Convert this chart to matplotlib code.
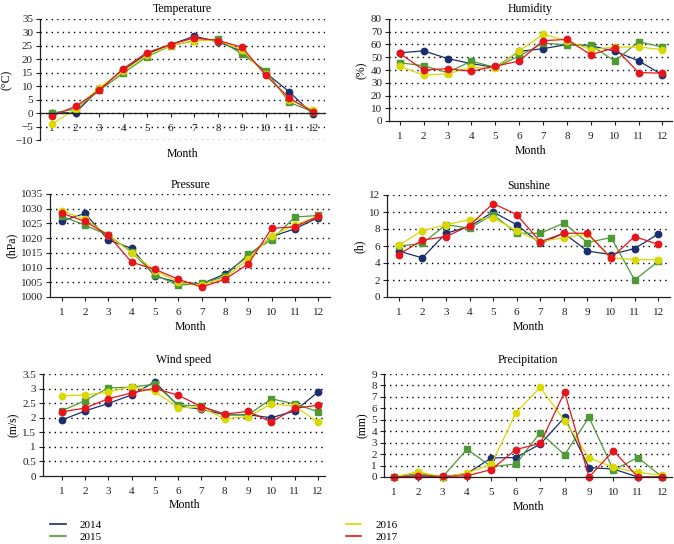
import numpy as np
import matplotlib as mpl
mpl.use('Agg')
import matplotlib.pyplot as plt
from matplotlib.lines import Line2D

plt.rcParams['font.family'] = ['Liberation Serif', 'DejaVu Serif']

months = list(range(1, 13))
years = ['2014', '2015', '2016', '2017']
colors = ['#1b2f6e', '#4f9a35', '#d9d900', '#e8141c']
markers = ['o', 's', 'o', 'o']

temp_2014 = [0, 0.2, 9, 16, 22, 25.5, 28.6, 26.5, 23, 15, 7.9, -0.5]
temp_2015 = [0, 1.5, 8.5, 14.8, 21, 25, 27, 27.5, 22, 15.8, 4, 0.5]
temp_2016 = [-4.1, 1.5, 9.5, 15.5, 21.5, 25, 27, 27, 23.5, 14.5, 5, 1.2]
temp_2017 = [-1.1, 2.5, 8.5, 16.5, 22.5, 25.5, 28, 27, 24.5, 14.2, 5.5, 0.5]

hum_2014 = [53.5, 55, 49, 45, 42, 54.6, 56.7, 60, 59, 54.8, 47.2, 36.2]
hum_2015 = [45.7, 43.3, 38, 47, 42, 51, 61, 59.8, 59.5, 47, 62.2, 58]
hum_2016 = [43, 36, 37, 42, 41.5, 55, 68, 63, 56, 58, 58, 56]
hum_2017 = [53, 40, 41, 39, 43, 47, 63, 64, 52, 57.5, 38, 37.5]

pres_2014 = [1025.8, 1028.4, 1019.4, 1016.5, 1007, 1005, 1004.5, 1007.8, 1014, 1020.5, 1023.2, 1027]
pres_2015 = [1027.5, 1024.4, 1021, 1015.3, 1007.5, 1004, 1004.6, 1007, 1014.6, 1019.5, 1027.2, 1027.7]
pres_2016 = [1029.3, 1026.5, 1021, 1015, 1009, 1005, 1004, 1006.5, 1013, 1020.8, 1024.5, 1027.5]
pres_2017 = [1028.5, 1025.7, 1021, 1011.8, 1009.4, 1006, 1003.4, 1006, 1011.3, 1023.3, 1023.9, 1027.4]

sun_2014 = [5.4, 4.6, 7.5, 8.3, 10, 8.5, 6.3, 7.5, 5.4, 5, 5.7, 7.4]
sun_2015 = [6, 6.3, 8.5, 8.1, 9.7, 7.5, 7.5, 8.7, 6.4, 7, 2, 4.2]
sun_2016 = [6.1, 7.8, 8.5, 9.1, 9.3, 7.8, 6.5, 7, 7.4, 4.6, 4.4, 4.4]
sun_2017 = [5, 6.7, 7.1, 8.4, 11, 9.7, 6.5, 7.5, 7.5, 4.6, 7.1, 6.2]

wind_2014 = [1.92, 2.23, 2.49, 2.78, 3.23, 2.4, 2.29, 2.1, 2.1, 2.0, 2.23, 2.88]
wind_2015 = [2.23, 2.59, 3.02, 3.05, 3.15, 2.44, 2.4, 2.1, 2.1, 2.65, 2.47, 2.21]
wind_2016 = [2.76, 2.78, 2.88, 3.07, 2.9, 2.35, 2.35, 1.96, 2.04, 2.47, 2.4, 1.84]
wind_2017 = [2.2, 2.33, 2.65, 2.85, 3.01, 2.77, 2.38, 2.12, 2.22, 1.85, 2.32, 2.43]

prec_2014 = [0, 0.1, 0, 0.3, 1.67, 1.7, 2.87, 5.2, 0.82, 0.7, 0, 0]
prec_2015 = [0, 0.3, 0, 2.43, 0.9, 1.14, 3.87, 1.94, 5.22, 0.6, 1.7, 0]
prec_2016 = [0, 0.45, 0, 0.35, 1.1, 5.6, 7.83, 4.93, 1.67, 0.85, 0.4, 0.15]
prec_2017 = [0, 0.1, 0.05, 0.1, 0.65, 2.4, 2.93, 7.42, 0, 2.29, 0, 0]

W, H = 674, 544
fig = plt.figure(figsize=(W / 100, H / 100), dpi=100)


def box(l, t, r, b):
    return [l / W, 1 - b / H, (r - l) / W, (b - t) / H]


def panel(rect, title, ylabel, series, ylim, step, xlim=(0.5, 12.5),
          xcross=None, title_pad=4, xlabel_pad=3):
    ax = fig.add_axes(box(*rect))
    for vals, c, m in zip(series, colors, markers):
        ax.plot(months, vals, color=c, lw=0.9, marker=m, ms=4.6,
                mec=c, mfc=c, clip_on=False)
    ticks = np.arange(ylim[0], ylim[1] + step / 2, step)
    for t in ticks:
        if t == ylim[0] and xcross is None:
            continue
        ax.axhline(t, color='k', lw=1, ls=(0, (1, 3)), zorder=0)
    ax.set_ylim(*ylim)
    ax.set_xlim(*xlim)
    ax.set_yticks(ticks)
    ax.set_yticklabels(['%g' % t if t >= 0 else '\u2212%g' % -t for t in ticks])
    ax.set_xticks(months)
    ax.tick_params(axis='both', labelsize=8, length=3, width=0.8,
                   direction='out', pad=2, colors='#222222')
    ax.tick_params(axis='x', pad=5)
    for s in ['top', 'right']:
        ax.spines[s].set_visible(False)
    for s in ['left', 'bottom']:
        ax.spines[s].set_linewidth(0.9)
        ax.spines[s].set_color('#222222')
    if xcross is not None:
        ax.spines['bottom'].set_position(('data', xcross))
    ax.set_title(title, fontsize=8.5, pad=title_pad)
    ax.set_ylabel(ylabel, fontsize=8.5, labelpad=2)
    ax.set_xlabel('Month', fontsize=8.5, labelpad=xlabel_pad)
    return ax


ax = panel((40, 19, 325, 140), 'Temperature', '(\u00b0C)',
           [temp_2014, temp_2015, temp_2016, temp_2017], (-10, 35), 5,
           xcross=0, title_pad=5)
ax.xaxis.set_label_coords(0.5, -0.065)

panel((389, 19, 672, 121), 'Humidity', '(%)',
      [hum_2014, hum_2015, hum_2016, hum_2017], (0, 80), 10,
      xlim=(0.55, 12.4), title_pad=5)

panel((50, 194, 330, 297), 'Pressure', '(hPa)',
      [pres_2014, pres_2015, pres_2016, pres_2017], (1000, 1035), 5)

panel((387, 195, 670, 297), 'Sunshine', '(h)',
      [sun_2014, sun_2015, sun_2016, sun_2017], (0, 12), 2)

panel((43, 374, 325, 476), 'Wind speed', '(m/s)',
      [wind_2014, wind_2015, wind_2016, wind_2017], (0, 3.5), 0.5,
      xlim=(0.2, 12.3), title_pad=8, xlabel_pad=2)

panel((384, 374, 672, 477), 'Precipitation', '(mm)',
      [prec_2014, prec_2015, prec_2016, prec_2017], (0, 9), 1,
      xlim=(0.6, 12.4), title_pad=8, xlabel_pad=3)

handles = [Line2D([], [], color=c, lw=1.2) for c in colors]
fig.legend(handles, years, ncol=2, loc='center left',
           bbox_to_anchor=(50 / W, 1 - 531 / H), frameon=False,
           fontsize=8, handlelength=1.4, columnspacing=21.9,
           labelspacing=0.25, handletextpad=1.3, borderpad=0,
           borderaxespad=0)

fig.savefig('out.png', dpi=100)
